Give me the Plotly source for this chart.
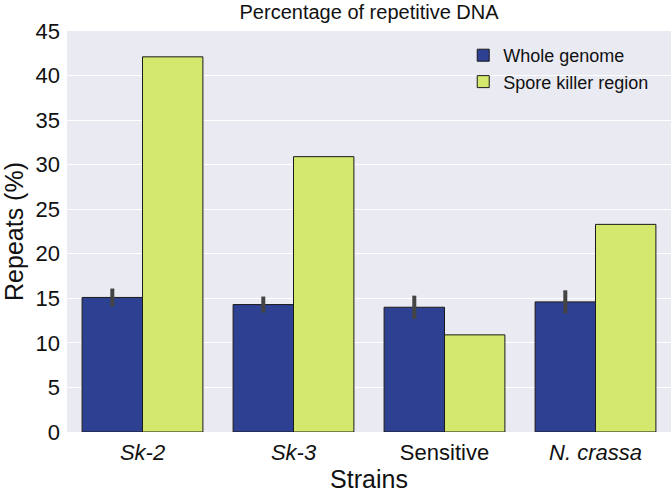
import plotly.graph_objects as go

strains = ["Sk-2", "Sk-3", "Sensitive", "N. crassa"]
tick_labels = ["<i>Sk-2</i>", "<i>Sk-3</i>", "Sensitive", "<i>N. crassa</i>"]
whole_genome = [15.1, 14.3, 14.0, 14.6]
whole_err_plus = [1.0, 0.9, 1.3, 1.3]
whole_err_minus = [1.0, 0.9, 1.3, 1.3]
spore_killer = [42.1, 30.9, 10.9, 23.3]
y_ticks = [0, 5, 10, 15, 20, 25, 30, 35, 40, 45]

fig = go.Figure()
fig.add_trace(go.Bar(
    x=strains, y=whole_genome, name="Whole genome",
    marker=dict(color="#2E4091", line=dict(color="#1a1a1a", width=1)),
    error_y=dict(type="data", array=whole_err_plus, arrayminus=whole_err_minus,
                 color="#444444", thickness=4, width=0),
))
fig.add_trace(go.Bar(
    x=strains, y=spore_killer, name="Spore killer region",
    marker=dict(color="#D3E86C", line=dict(color="#1a1a1a", width=1)),
))

fig.update_layout(
    width=671, height=496,
    barmode="group", bargap=0.2, bargroupgap=0,
    paper_bgcolor="white", plot_bgcolor="#EAEAF2",
    margin=dict(l=67, r=0, t=31, b=64),
    font=dict(family="Liberation Sans, Arial, sans-serif", size=21, color="#111111"),
    title=dict(text="Percentage of repetitive DNA", x=0.55, xanchor="center",
               y=0.975, yanchor="middle", font=dict(size=20)),
    legend=dict(x=0.656, xanchor="left", y=0.985, yanchor="top",
                bgcolor="rgba(0,0,0,0)", font=dict(size=18), tracegroupgap=0),
    showlegend=True,
)
fig.update_xaxes(tickmode="array", tickvals=strains, ticktext=tick_labels,
                 tickfont=dict(size=22),
                 title=dict(text="Strains", standoff=0), showgrid=False,
                 showline=False, ticks="", range=[-0.5, 3.5], ticklabelstandoff=5)
fig.update_yaxes(range=[0, 45], tickvals=y_ticks, gridcolor="white", gridwidth=1.2,
                 tickfont=dict(size=22),
                 title=dict(text="Repeats (%)", standoff=15), zeroline=False,
                 showline=False, ticks="", ticklabelstandoff=6)

fig.write_html("out.html", config={"displayModeBar": False},
               post_script="document.body.style.margin='0px';")
